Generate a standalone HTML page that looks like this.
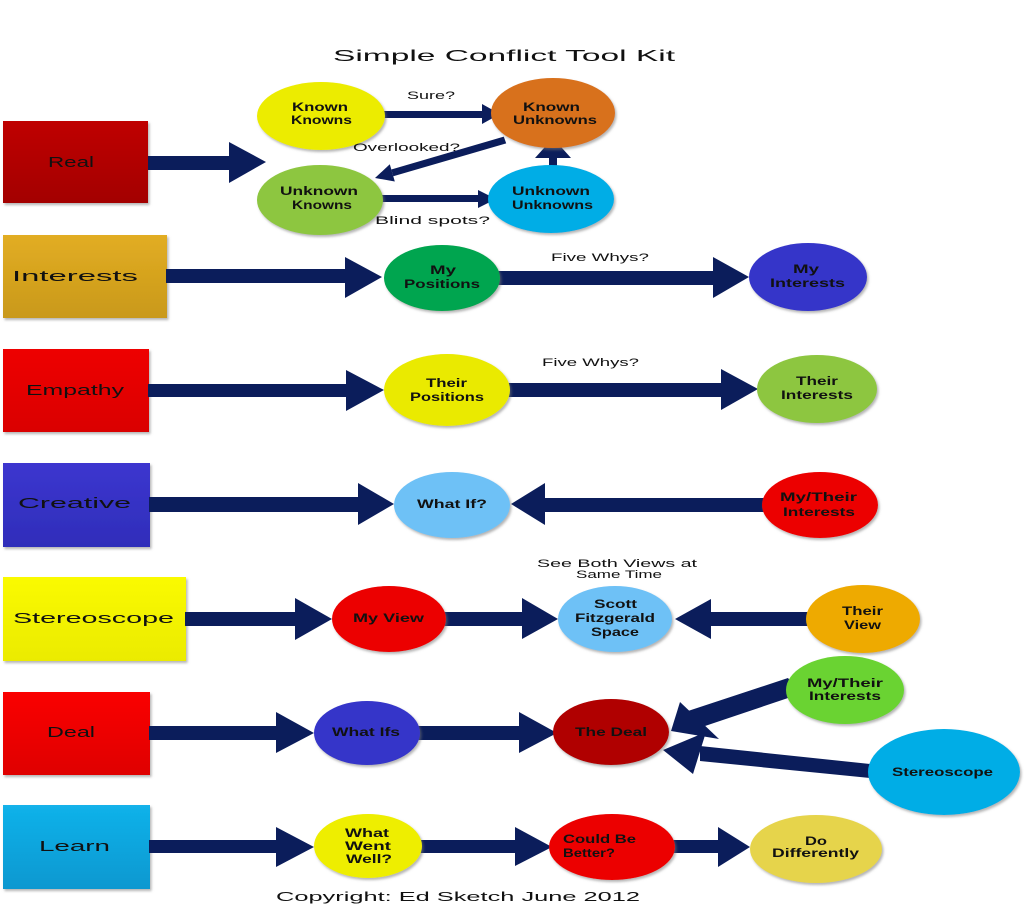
<!DOCTYPE html>
<html><head><meta charset="utf-8"><style>
html,body{margin:0;padding:0;background:#fff;width:1024px;height:908px;overflow:hidden}
svg{display:block}
text{font-family:"Liberation Sans",Arial,sans-serif;fill:#111}
.b{font-weight:bold;font-size:12px}
.r{font-size:15px}
.s{font-size:11px}
</style></head><body>
<svg width="1024" height="908" viewBox="0 0 1024 908" xmlns="http://www.w3.org/2000/svg">
<defs>
<filter id="sh" x="-10%" y="-10%" width="125%" height="130%"><feDropShadow dx="1.5" dy="2" stdDeviation="1.2" flood-color="#777" flood-opacity="0.55"/></filter>
<linearGradient id="gReal" x1="0" y1="0" x2="0" y2="1"><stop offset="0" stop-color="#bf0000"/><stop offset="1" stop-color="#a30000"/></linearGradient>
<linearGradient id="gInt" x1="0" y1="0" x2="0" y2="1"><stop offset="0" stop-color="#e2ad22"/><stop offset="1" stop-color="#c9991b"/></linearGradient>
<linearGradient id="gEmp" x1="0" y1="0" x2="0" y2="1"><stop offset="0" stop-color="#ee0000"/><stop offset="1" stop-color="#da0000"/></linearGradient>
<linearGradient id="gCre" x1="0" y1="0" x2="0" y2="1"><stop offset="0" stop-color="#3c36cf"/><stop offset="1" stop-color="#2f2dba"/></linearGradient>
<linearGradient id="gSte" x1="0" y1="0" x2="0" y2="1"><stop offset="0" stop-color="#fafa00"/><stop offset="1" stop-color="#ebeb00"/></linearGradient>
<linearGradient id="gDea" x1="0" y1="0" x2="0" y2="1"><stop offset="0" stop-color="#fa0000"/><stop offset="1" stop-color="#df0000"/></linearGradient>
<linearGradient id="gLea" x1="0" y1="0" x2="0" y2="1"><stop offset="0" stop-color="#12b2ea"/><stop offset="1" stop-color="#0898d0"/></linearGradient>
</defs>

<!-- Title -->
<text x="333" y="61" font-size="16" textLength="342" lengthAdjust="spacingAndGlyphs">Simple Conflict Tool Kit</text>

<!-- Boxes -->
<g filter="url(#sh)">
<rect x="3" y="121" width="145" height="82" fill="url(#gReal)"/>
<rect x="3" y="235" width="164" height="83" fill="url(#gInt)"/>
<rect x="3" y="349" width="146" height="83" fill="url(#gEmp)"/>
<rect x="3" y="463" width="147" height="84" fill="url(#gCre)"/>
<rect x="3" y="577" width="183" height="84" fill="url(#gSte)"/>
<rect x="3" y="692" width="147" height="83" fill="url(#gDea)"/>
<rect x="3" y="805" width="147" height="84" fill="url(#gLea)"/>
</g>
<text class="r" x="48" y="167" textLength="46" lengthAdjust="spacingAndGlyphs">Real</text>
<text class="r" x="12" y="281" textLength="126" lengthAdjust="spacingAndGlyphs">Interests</text>
<text class="r" x="26" y="395" textLength="98" lengthAdjust="spacingAndGlyphs">Empathy</text>
<text class="r" x="18" y="508" textLength="113" lengthAdjust="spacingAndGlyphs">Creative</text>
<text class="r" x="13" y="623" textLength="161" lengthAdjust="spacingAndGlyphs">Stereoscope</text>
<text class="r" x="47" y="737" textLength="48" lengthAdjust="spacingAndGlyphs">Deal</text>
<text class="r" x="39" y="851" textLength="71" lengthAdjust="spacingAndGlyphs">Learn</text>

<!-- Arrows -->
<g fill="#0b1d5b">
<!-- Real -->
<rect x="148" y="156" width="82" height="14"/>
<polygon points="229,142 266,162 229,183"/>
<!-- top cluster -->
<rect x="384" y="111" width="100" height="7"/>
<polygon points="482,104 500,114 482,124"/>
<rect x="382" y="195" width="98" height="7"/>
<polygon points="478,190 496,199 478,208"/>
<polygon points="503.8,136.6 506.2,143.4 393.3,176.3 391.3,169.5"/>
<polygon points="394.8,181.5 389.8,164.3 375,178"/>
<rect x="549" y="155" width="8" height="13"/>
<polygon points="535,158 571,158 553,138"/>
<!-- Interests -->
<rect x="166" y="269" width="180" height="14"/>
<polygon points="345,257 382,277 345,298"/>
<rect x="498" y="271" width="216" height="14"/>
<polygon points="713,257 749,277 713,298"/>
<!-- Empathy -->
<rect x="148" y="384" width="199" height="13"/>
<polygon points="346,370 384,390 346,411"/>
<rect x="508" y="383" width="214" height="14"/>
<polygon points="721,369 758,389 721,410"/>
<!-- Creative -->
<rect x="149" y="497" width="210" height="15"/>
<polygon points="358,483 394,504 358,525"/>
<rect x="544" y="498" width="220" height="14"/>
<polygon points="545,483 511,504 545,525"/>
<!-- Stereoscope -->
<rect x="185" y="612" width="111" height="14"/>
<polygon points="295,598 332,619 295,640"/>
<rect x="444" y="612" width="79" height="14"/>
<polygon points="522,598 558,619 522,639"/>
<rect x="710" y="612" width="98" height="14"/>
<polygon points="711,599 675,619 711,639"/>
<!-- Deal -->
<rect x="149" y="726" width="128" height="14"/>
<polygon points="276,712 314,733 276,753"/>
<rect x="418" y="726" width="102" height="14"/>
<polygon points="519,712 557,733 519,753"/>
<polygon points="688,711 788,678 800,694 705,726"/>
<polygon points="680,702 671,731 719,739"/>
<polygon points="700,746 870,764 870,778 700,761"/>
<polygon points="706,732 663,750 693,774"/>
<!-- Learn -->
<rect x="149" y="840" width="128" height="13"/>
<polygon points="276,827 314,847 276,867"/>
<rect x="420" y="840" width="96" height="13"/>
<polygon points="515,827 552,847 515,866"/>
<rect x="673" y="840" width="46" height="13"/>
<polygon points="718,827 750,847 718,867"/>
</g>

<!-- Nodes -->
<g filter="url(#sh)">
<ellipse cx="321" cy="116" rx="64" ry="34" fill="#ecec00"/>
<ellipse cx="553" cy="113" rx="62" ry="35" fill="#d8711f"/>
<ellipse cx="320" cy="200" rx="63" ry="35" fill="#8dc63f"/>
<ellipse cx="551" cy="199" rx="63" ry="34" fill="#00ade6"/>

<ellipse cx="442" cy="278" rx="58" ry="33" fill="#00a54f"/>
<ellipse cx="808" cy="277" rx="59" ry="34" fill="#3535c9"/>

<ellipse cx="447" cy="390" rx="63" ry="36" fill="#eaea00"/>
<ellipse cx="817" cy="389" rx="60" ry="34" fill="#8dc63f"/>

<ellipse cx="452" cy="505" rx="58" ry="33" fill="#6ec1f6"/>
<ellipse cx="820" cy="505" rx="58" ry="33" fill="#ec0000"/>

<ellipse cx="389" cy="619" rx="57" ry="33" fill="#ec0000"/>
<ellipse cx="615" cy="619" rx="57" ry="33" fill="#6ec1f6"/>
<ellipse cx="863" cy="619" rx="57" ry="34" fill="#eeaa00"/>

<ellipse cx="367" cy="733" rx="53" ry="32" fill="#3535c9"/>
<ellipse cx="611" cy="732" rx="58" ry="33" fill="#b00000"/>
<ellipse cx="845" cy="690" rx="59" ry="34" fill="#6ad330"/>
<ellipse cx="944" cy="772" rx="76" ry="43" fill="#00ade6"/>

<ellipse cx="368" cy="846" rx="54" ry="32" fill="#eeee00"/>
<ellipse cx="612" cy="847" rx="63" ry="33" fill="#ec0000"/>
<ellipse cx="816" cy="849" rx="66" ry="34" fill="#e6d44c"/>
</g>

<!-- Node labels -->
<text class="b" x="292" y="111" textLength="56" lengthAdjust="spacingAndGlyphs">Known</text>
<text class="b" x="291" y="124" textLength="61" lengthAdjust="spacingAndGlyphs">Knowns</text>
<text class="b" x="523" y="111" textLength="57" lengthAdjust="spacingAndGlyphs">Known</text>
<text class="b" x="513" y="124" textLength="84" lengthAdjust="spacingAndGlyphs">Unknowns</text>
<text class="b" x="280" y="195" textLength="78" lengthAdjust="spacingAndGlyphs">Unknown</text>
<text class="b" x="292" y="209" textLength="60" lengthAdjust="spacingAndGlyphs">Knowns</text>
<text class="b" x="512" y="195" textLength="78" lengthAdjust="spacingAndGlyphs">Unknown</text>
<text class="b" x="512" y="209" textLength="81" lengthAdjust="spacingAndGlyphs">Unknowns</text>

<text class="b" x="430" y="274" textLength="26" lengthAdjust="spacingAndGlyphs">My</text>
<text class="b" x="404" y="288" textLength="76" lengthAdjust="spacingAndGlyphs">Positions</text>
<text class="b" x="793" y="273" textLength="26" lengthAdjust="spacingAndGlyphs">My</text>
<text class="b" x="770" y="287" textLength="75" lengthAdjust="spacingAndGlyphs">Interests</text>

<text class="b" x="426" y="387" textLength="41" lengthAdjust="spacingAndGlyphs">Their</text>
<text class="b" x="410" y="401" textLength="74" lengthAdjust="spacingAndGlyphs">Positions</text>
<text class="b" x="796" y="385" textLength="42" lengthAdjust="spacingAndGlyphs">Their</text>
<text class="b" x="781" y="399" textLength="72" lengthAdjust="spacingAndGlyphs">Interests</text>

<text class="b" x="417" y="508" textLength="70" lengthAdjust="spacingAndGlyphs">What If?</text>
<text class="b" x="780" y="501" textLength="77" lengthAdjust="spacingAndGlyphs">My/Their</text>
<text class="b" x="783" y="516" textLength="72" lengthAdjust="spacingAndGlyphs">Interests</text>

<text class="b" x="353" y="622" textLength="71" lengthAdjust="spacingAndGlyphs">My View</text>
<text class="b" x="594" y="608" textLength="43" lengthAdjust="spacingAndGlyphs">Scott</text>
<text class="b" x="575" y="622" textLength="80" lengthAdjust="spacingAndGlyphs">Fitzgerald</text>
<text class="b" x="591" y="636" textLength="48" lengthAdjust="spacingAndGlyphs">Space</text>
<text class="b" x="842" y="615" textLength="41" lengthAdjust="spacingAndGlyphs">Their</text>
<text class="b" x="844" y="629" textLength="37" lengthAdjust="spacingAndGlyphs">View</text>

<text class="b" x="332" y="736" textLength="68" lengthAdjust="spacingAndGlyphs">What Ifs</text>
<text class="b" x="575" y="736" textLength="72" lengthAdjust="spacingAndGlyphs">The Deal</text>
<text class="b" x="807" y="687" textLength="76" lengthAdjust="spacingAndGlyphs">My/Their</text>
<text class="b" x="809" y="700" textLength="72" lengthAdjust="spacingAndGlyphs">Interests</text>
<text class="b" x="892" y="776" textLength="101" lengthAdjust="spacingAndGlyphs">Stereoscope</text>

<text class="b" x="345" y="837" textLength="44" lengthAdjust="spacingAndGlyphs">What</text>
<text class="b" x="345" y="850" textLength="46" lengthAdjust="spacingAndGlyphs">Went</text>
<text class="b" x="346" y="863" textLength="46" lengthAdjust="spacingAndGlyphs">Well?</text>
<text class="b" x="563" y="843" textLength="73" lengthAdjust="spacingAndGlyphs">Could Be</text>
<text class="b" x="563" y="857" textLength="52" lengthAdjust="spacingAndGlyphs">Better?</text>
<text class="b" x="805" y="845" textLength="22" lengthAdjust="spacingAndGlyphs">Do</text>
<text class="b" x="772" y="857" textLength="87" lengthAdjust="spacingAndGlyphs">Differently</text>

<!-- Small connector labels -->
<text class="s" x="407" y="99" textLength="48" lengthAdjust="spacingAndGlyphs">Sure?</text>
<text class="s" x="353" y="151" textLength="107" lengthAdjust="spacingAndGlyphs">Overlooked?</text>
<text class="s" x="375" y="224" textLength="115" lengthAdjust="spacingAndGlyphs">Blind spots?</text>
<text class="s" x="551" y="261" textLength="98" lengthAdjust="spacingAndGlyphs">Five Whys?</text>
<text class="s" x="542" y="366" textLength="97" lengthAdjust="spacingAndGlyphs">Five Whys?</text>
<text class="s" x="537" y="567" textLength="160" lengthAdjust="spacingAndGlyphs">See Both Views at</text>
<text class="s" x="576" y="578" textLength="86" lengthAdjust="spacingAndGlyphs">Same Time</text>

<!-- Copyright -->
<text x="276" y="901" font-size="13" textLength="364" lengthAdjust="spacingAndGlyphs">Copyright: Ed Sketch June 2012</text>
</svg>
</body></html>
